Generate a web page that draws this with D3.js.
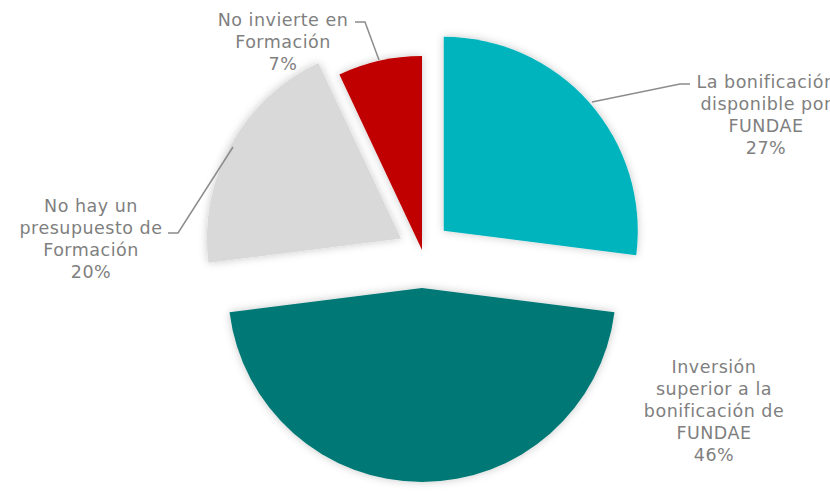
<!DOCTYPE html>
<html>
<head>
<meta charset="utf-8">
<script src="https://cdn.jsdelivr.net/npm/d3@7"></script>
<style>
  body { margin: 0; background: #fff; }
  svg { display: block; }
  text { font-family: "DejaVu Sans", Verdana, sans-serif; fill: #7f7f7f; letter-spacing: 0.5px; }
</style>
</head>
<body>
<svg id="chart" width="830" height="500"></svg>
<script>
// data
const categories = [
  ["La bonificación", "disponible por", "FUNDAE"],
  ["Inversión", "superior a la", "bonificación de", "FUNDAE"],
  ["No hay un", "presupuesto de", "Formación"],
  ["No invierte en", "Formación"],
];
const values = [27, 46, 20, 7];

// styles
const colors = ["#00b4be", "#007874", "#d9d9d9", "#c00000"];
const explode = [29, 38, 24, 0];
const cx = 422, cy = 250, radius = 194;
const fontSize = 17.5, lineH = 22;

// label anchor (center x, first baseline y) and leader lines
const labelPos = [
  { x: 766, y: 88 },
  { x: 714, y: 373 },
  { x: 91, y: 212 },
  { x: 283, y: 26 },
];
const leaders = [
  [[690, 84], [680, 84], [592, 102]],
  null,
  [[168, 233], [178, 233], [233, 147]],
  [[355, 22], [365, 22], [379, 60]],
];

const svg = d3.select("#chart");

// soft shadow like the original
const defs = svg.append("defs");
const f = defs.append("filter").attr("id", "shadow")
  .attr("x", "-20%").attr("y", "-20%").attr("width", "140%").attr("height", "140%");
f.append("feDropShadow").attr("dx", 0).attr("dy", 0)
  .attr("stdDeviation", 4).attr("flood-color", "#000").attr("flood-opacity", 0.22);

const pie = d3.pie().sort(null).value(function (d) { return d; });
const arcs = pie(values);
const arc = d3.arc().innerRadius(0).outerRadius(radius);

const g = svg.append("g").attr("transform", "translate(" + cx + "," + cy + ")");

g.selectAll("path")
  .data(arcs)
  .enter()
  .append("path")
  .attr("d", arc)
  .attr("fill", function (d, i) { return colors[i]; })
  .attr("filter", "url(#shadow)")
  .attr("transform", function (d, i) {
    const a = (d.startAngle + d.endAngle) / 2;
    return "translate(" + explode[i] * Math.sin(a) + "," + (-explode[i] * Math.cos(a)) + ")";
  });

// leader lines
const line = d3.line();
svg.selectAll("path.leader")
  .data(leaders.filter(function (d) { return d; }))
  .enter()
  .append("path")
  .attr("class", "leader")
  .attr("d", line)
  .attr("fill", "none")
  .attr("stroke", "#8c8c8c")
  .attr("stroke-width", 1.5);

// labels
const labels = svg.selectAll("text.label")
  .data(arcs)
  .enter()
  .append("text")
  .attr("class", "label")
  .attr("text-anchor", "middle")
  .style("font-size", fontSize + "px");

labels.each(function (d, i) {
  const t = d3.select(this);
  const lines = categories[i].concat([values[i] + "%"]);
  lines.forEach(function (s, j) {
    t.append("tspan")
      .attr("x", labelPos[i].x)
      .attr("y", labelPos[i].y + j * lineH)
      .text(s);
  });
});
</script>
</body>
</html>
